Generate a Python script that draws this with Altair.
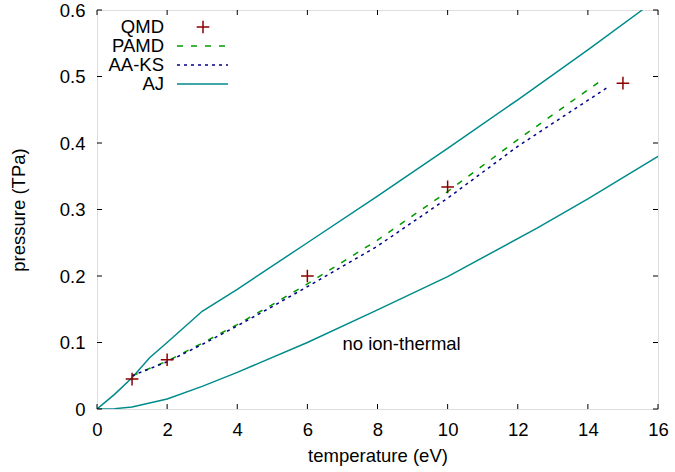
import altair as alt
import pandas as pd

# ---- data ----
QMD_T = [1, 2, 6, 10, 15]
QMD_P = [0.045, 0.074, 0.2, 0.334, 0.49]

PAMD_T = [1, 2, 3, 4, 5, 6, 8, 10, 12, 14.35]
PAMD_P = [0.05, 0.072, 0.099, 0.127, 0.157, 0.188, 0.254, 0.327, 0.405, 0.493]

AAKS_T = [1, 2, 3, 4, 5, 6, 8, 10, 12, 14.6]
AAKS_P = [0.05, 0.071, 0.097, 0.125, 0.154, 0.184, 0.245, 0.317, 0.395, 0.485]

AJ_UP_T = [0, 0.5, 1, 1.5, 2, 3, 4, 6, 8, 10, 12, 14, 15.55]
AJ_UP_P = [0, 0.022, 0.047, 0.077, 0.1, 0.147, 0.18, 0.25, 0.32, 0.392, 0.465, 0.54, 0.6]

AJ_LO_T = [0, 0.5, 1, 2, 3, 4, 6, 8, 10, 12.55, 14, 16]
AJ_LO_P = [0, 0.0005, 0.003, 0.015, 0.034, 0.055, 0.1, 0.149, 0.199, 0.272, 0.316, 0.38]

X_TICKS = [0, 2, 4, 6, 8, 10, 12, 14, 16]
Y_TICKS = [0, 0.1, 0.2, 0.3, 0.4, 0.5, 0.6]

LEGEND_LABELS = ["QMD", "PAMD", "AA-KS", "AJ"]
NOTE_TEXT = ["no ion-thermal"]
NOTE_T = [7.0]
NOTE_P = [0.098]

FONT = "Liberation Sans"
FS = 18.5
W, H = 561, 399
C_QMD = "#8b0000"
C_PAMD = "#009a00"
C_AAKS = "#00008b"
C_AJ = "#008b8b"

xs = alt.Scale(domain=[0, 16], nice=False, zero=False)
ys = alt.Scale(domain=[0, 0.6], nice=False, zero=False)

qmd = pd.DataFrame({"T": QMD_T, "P": QMD_P})
pamd = pd.DataFrame({"T": PAMD_T, "P": PAMD_P})
aaks = pd.DataFrame({"T": AAKS_T, "P": AAKS_P})
aj = pd.concat([
    pd.DataFrame({"T": AJ_UP_T, "P": AJ_UP_P, "branch": "upper"}),
    pd.DataFrame({"T": AJ_LO_T, "P": AJ_LO_P, "branch": "lower"}),
])

xaxis = alt.Axis(values=X_TICKS, ticks=False, domain=False, grid=False,
                 labelFont=FONT, labelFontSize=FS, labelColor="#000",
                 labelPadding=11, title="temperature (eV)", titleFont=FONT,
                 titleFontSize=FS, titleFontWeight="normal", titleColor="#000",
                 titlePadding=8, labelFlush=False)
yaxis = alt.Axis(values=Y_TICKS, ticks=False, domain=False, grid=False,
                 labelFont=FONT, labelFontSize=FS, labelColor="#000",
                 labelPadding=12, title="pressure (TPa)", titleFont=FONT,
                 titleFontSize=FS, titleFontWeight="normal", titleColor="#000",
                 titlePadding=31, format=".1~f", labelFlush=False)

base_axes = alt.Chart(qmd).mark_point(opacity=0).encode(
    x=alt.X("T:Q", scale=xs, axis=xaxis),
    y=alt.Y("P:Q", scale=ys, axis=yaxis),
)

aj_line = alt.Chart(aj).mark_line(color=C_AJ, strokeWidth=1.5, clip=True).encode(
    x=alt.X("T:Q", scale=xs), y=alt.Y("P:Q", scale=ys), detail="branch:N")
pamd_line = alt.Chart(pamd).mark_line(color=C_PAMD, strokeWidth=1.5, strokeDash=[6, 8]).encode(
    x=alt.X("T:Q", scale=xs), y=alt.Y("P:Q", scale=ys))
aaks_line = alt.Chart(aaks).mark_line(color=C_AAKS, strokeWidth=1.5, strokeDash=[3, 4]).encode(
    x=alt.X("T:Q", scale=xs), y=alt.Y("P:Q", scale=ys))
plus = "M-1,0L1,0M0,-1L0,1"
qmd_pts = alt.Chart(qmd).mark_point(shape=plus, filled=False, color=C_QMD,
                                     strokeWidth=1.5, size=160, opacity=1).encode(
    x=alt.X("T:Q", scale=xs), y=alt.Y("P:Q", scale=ys))

note = alt.Chart(pd.DataFrame({"t": NOTE_TEXT, "T": NOTE_T, "P": NOTE_P})).mark_text(
    font=FONT, fontSize=FS, align="left", baseline="middle", color="#000").encode(
    x=alt.X("T:Q", scale=xs), y=alt.Y("P:Q", scale=ys), text="t:N")

# inward ticks on all four sides
xt = pd.DataFrame({"T": X_TICKS})
yt = pd.DataFrame({"P": Y_TICKS})
tick_style = dict(color="#000", strokeWidth=1)
xt_bot = alt.Chart(xt).mark_rule(**tick_style).encode(
    x=alt.X("T:Q", scale=xs), y=alt.value(H), y2=alt.value(H - 5))
xt_top = alt.Chart(xt).mark_rule(**tick_style).encode(
    x=alt.X("T:Q", scale=xs), y=alt.value(0), y2=alt.value(5))
yt_l = alt.Chart(yt).mark_rule(**tick_style).encode(
    y=alt.Y("P:Q", scale=ys), x=alt.value(0), x2=alt.value(5))
yt_r = alt.Chart(yt).mark_rule(**tick_style).encode(
    y=alt.Y("P:Q", scale=ys), x=alt.value(W), x2=alt.value(W - 5))

# legend (gnuplot style: label left of sample)
leg_df = pd.DataFrame({"label": LEGEND_LABELS})
row_y = [17, 36, 55, 74]
leg_text = alt.layer(*[
    alt.Chart(pd.DataFrame({"label": [lab]})).mark_text(
        font=FONT, fontSize=FS, align="right", baseline="middle", color="#000").encode(
        x=alt.value(67), y=alt.value(yy), text="label:N")
    for lab, yy in zip(LEGEND_LABELS, row_y)
])
leg_plus = alt.Chart(leg_df.head(1)).mark_point(shape=plus, filled=False, color=C_QMD,
                                                strokeWidth=1.5, size=160, opacity=1).encode(
    x=alt.value(106), y=alt.value(row_y[0]))
leg_pamd = alt.Chart(leg_df.head(1)).mark_rule(color=C_PAMD, strokeWidth=1.5, strokeDash=[6, 8]).encode(
    x=alt.value(80), x2=alt.value(131), y=alt.value(row_y[1]))
leg_aaks = alt.Chart(leg_df.head(1)).mark_rule(color=C_AAKS, strokeWidth=1.5, strokeDash=[3, 4]).encode(
    x=alt.value(80), x2=alt.value(131), y=alt.value(row_y[2]))
leg_aj = alt.Chart(leg_df.head(1)).mark_rule(color=C_AJ, strokeWidth=1.5).encode(
    x=alt.value(80), x2=alt.value(131), y=alt.value(row_y[3]))

chart = alt.layer(
    base_axes, aj_line, pamd_line, aaks_line, qmd_pts, note,
    xt_bot, xt_top, yt_l, yt_r,
    leg_text, leg_plus, leg_pamd, leg_aaks, leg_aj,
).properties(
    width=W, height=H,
    autosize=alt.AutoSizeParams(type="none"),
    padding={"left": 97, "top": 10, "right": 17, "bottom": 63},
).configure_view(stroke="#000", strokeWidth=1.2).configure(background="white")

chart.save("out.html", embed_options={"renderer": "svg", "actions": False})
